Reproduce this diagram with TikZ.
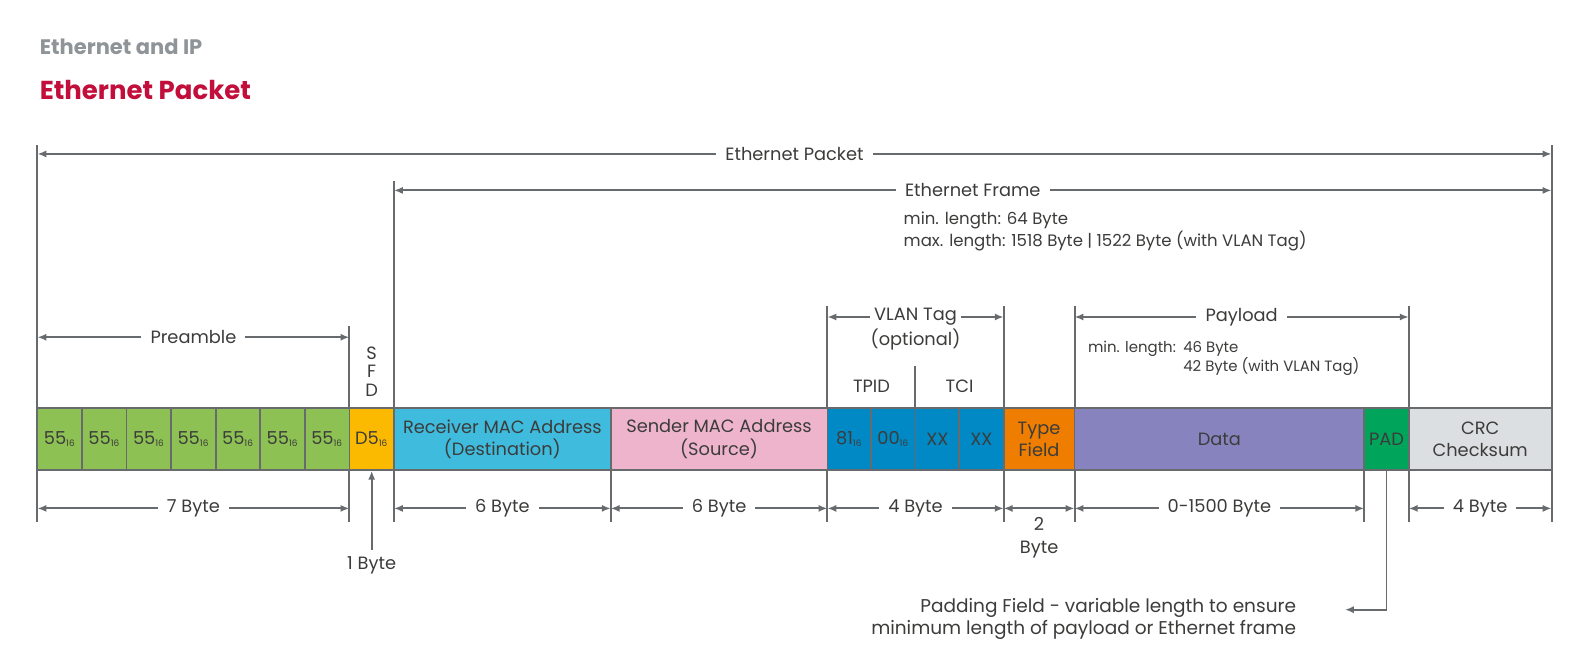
\documentclass[tikz,border=0pt]{standalone}
\usepackage{fontspec}
\setmainfont{Poppins}
\usetikzlibrary{arrows.meta}
\definecolor{ink}{HTML}{3C3C3B}
\definecolor{linegray}{HTML}{676B6E}
\definecolor{headgray}{HTML}{8F9498}
\definecolor{headred}{HTML}{C20E3A}
\definecolor{pregreen}{HTML}{8DC153}
\definecolor{sfdyellow}{HTML}{FBBA00}
\definecolor{rxblue}{HTML}{3FBBDD}
\definecolor{txpink}{HTML}{EEB4CB}
\definecolor{vlanblue}{HTML}{0089C4}
\definecolor{typeorange}{HTML}{EE7D00}
\definecolor{datapurple}{HTML}{8783BF}
\definecolor{padgreen}{HTML}{00A55B}
\definecolor{crcgray}{HTML}{DCDFE1}
\newcommand\hexs{\textsubscript{\fontsize{5}{5}\selectfont 16}}

\tikzset{
  field/.style={draw=linegray, line width=1pt, inner sep=0pt, minimum height=61*0.2mm, align=center},
  dim/.style={<->, draw=linegray, line width=1.1pt},
  tick/.style={draw=linegray, line width=1.1pt},
  dimlbl/.style={fill=white, inner xsep=1.8mm, inner ysep=1pt},
  small/.style={inner sep=0pt, font=\fontsize{8.4}{10}\selectfont, text height=1.5ex, text depth=0.4ex}
}

\begin{document}
\begin{tikzpicture}[x=0.2mm, y=-0.2mm, >={Latex[length=5pt,width=4pt]},
  every node/.style={text=ink}, font=\fontsize{10}{12.5}\selectfont]
\fill[white] (0,0) rectangle (1568,651.7);
\useasboundingbox (0,0) rectangle (1568,651.7);

% headings
\node[anchor=west, inner sep=0pt, text=headgray, font=\fontsize{11.8}{14}\selectfont\bfseries] (topic) at (39,46) {Ethernet and IP};
\node[anchor=west, inner sep=0pt, text=headred, font=\fontsize{14.6}{18}\selectfont\bfseries] (title) at (39,89) {Ethernet Packet};

% extension lines
\foreach \x/\t in {37/143,1532/143,389/179,345/322,817/302,991/302,1061/302,1391/302,603/464,1347/464}
  \draw[tick] (\x,\t) -- (\x,515);

% fields
\foreach \i in {0,...,6}
  \node[field, fill=pregreen, minimum width=44*0.2mm] (pre\i) at ({59+44*\i},433.5) {55\hexs};
\node[field, fill=sfdyellow, minimum width=44*0.2mm] (sfd) at (367,433.5) {D5\hexs};
\node[field, fill=rxblue, minimum width=214*0.2mm] (rx) at (496,433.5) {Receiver MAC Address\\(Destination)};
\node[field, fill=txpink, minimum width=214*0.2mm] (tx) at (710,433.5) {Sender MAC Address\\(Source)};
\node[field, fill=vlanblue, minimum width=43*0.2mm] (tpida) at (838.5,433.5) {81\hexs};
\node[field, fill=vlanblue, minimum width=44*0.2mm] (tpidb) at (882,433.5) {00\hexs};
\node[field, fill=vlanblue, minimum width=43*0.2mm] (tcia) at (925.5,433.5) {XX};
\node[field, fill=vlanblue, minimum width=44*0.2mm] (tcib) at (969,433.5) {XX};
\node[field, fill=typeorange, minimum width=70*0.2mm] (type) at (1026,433.5) {Type\\Field};
\node[field, fill=datapurple, minimum width=286*0.2mm] (data) at (1204,433.5) {Data};
\node[field, fill=padgreen, minimum width=44*0.2mm] (pad) at (1369,433.5) {PAD};
\node[field, fill=crcgray, minimum width=141*0.2mm] (crc) at (1461.5,433.5) {CRC\\Checksum};

% packet and frame
\coordinate (pkL) at (37,152);
\coordinate (pkR) at (1532,152);
\draw[dim] (pkL) -- node[dimlbl] (pktxt) {Ethernet Packet} (pkR);
\coordinate (frL) at (389,188);
\coordinate (frR) at (1532,188);
\draw[dim] (frL) -- node[dimlbl] (frtxt) {Ethernet Frame} (frR);
\node[small, anchor=west, font=\fontsize{9.3}{11}\selectfont] (frmin) at (892,216) {min. length: 64 Byte};
\node[small, anchor=west, font=\fontsize{9.3}{11}\selectfont] (frmax) at (892,238) {max. length: 1518 Byte | 1522 Byte (with VLAN Tag)};

% preamble, SFD
\coordinate (prL) at (37,333);
\coordinate (prR) at (345,333);
\draw[dim] (prL) -- node[dimlbl] (prtxt) {Preamble} (prR);
\node[align=center, inner sep=0pt, font=\fontsize{10}{10.3}\selectfont] (sfdtxt) at (367,367) {S\\F\\D};

% VLAN tag
\coordinate (vlL) at (817,313);
\coordinate (vlR) at (991,313);
\draw[dim] (vlL) -- node[dimlbl, inner xsep=0.8mm] (vltxt) {VLAN Tag} (vlR);
\node (vlopt) at (904,335) {(optional)};
\node (tpid) at (860.5,381) {TPID};
\node (tci) at (947.5,381) {TCI};
\draw[tick] (tcia.north west) -- ++(0,-41);

% payload
\coordinate (plL) at (1061,313);
\coordinate (plR) at (1391,313);
\draw[dim] (plL) -- node[dimlbl] (pltxt) {Payload} (plR);
\node[small, anchor=west] (plmin) at (1074,343) {min. length:};
\node[small, anchor=west] (plmina) at (1168,343) {46 Byte};
\node[small, anchor=west] (plminb) at (1168,362) {42 Byte (with VLAN Tag)};

% lengths
\foreach \a/\b/\t [count=\n] in {37/345/7 Byte, 389/603/6 Byte, 603/817/6 Byte, 817/991/4 Byte, 1061/1347/0-1500 Byte, 1391/1532/4 Byte}
  \draw[dim] (\a,502) -- node[dimlbl] (len\n) {\t} (\b,502);
\coordinate (tyL) at (991,502);
\coordinate (tyR) at (1061,502);
\draw[dim] (tyL) -- (tyR);
\node[align=center, font=\fontsize{10}{12.5}\selectfont] (twobyte) at (1026,531) {2\\Byte};
\node (onebyte) at (367,558) {1 Byte};
\draw[->, draw=linegray, line width=1.1pt] (onebyte.north) -- (sfd.south);

% padding note
\node[align=right, anchor=east, inner sep=0pt, font=\fontsize{10.4}{12.5}\selectfont] (padnote) at (1280,611) {Padding Field - variable length to ensure\\minimum length of payload or Ethernet frame};
\coordinate (padend) at (1328,602);
\draw[->, draw=linegray, line width=1.1pt] (pad.south) |- (padend);
\end{tikzpicture}
\end{document}
